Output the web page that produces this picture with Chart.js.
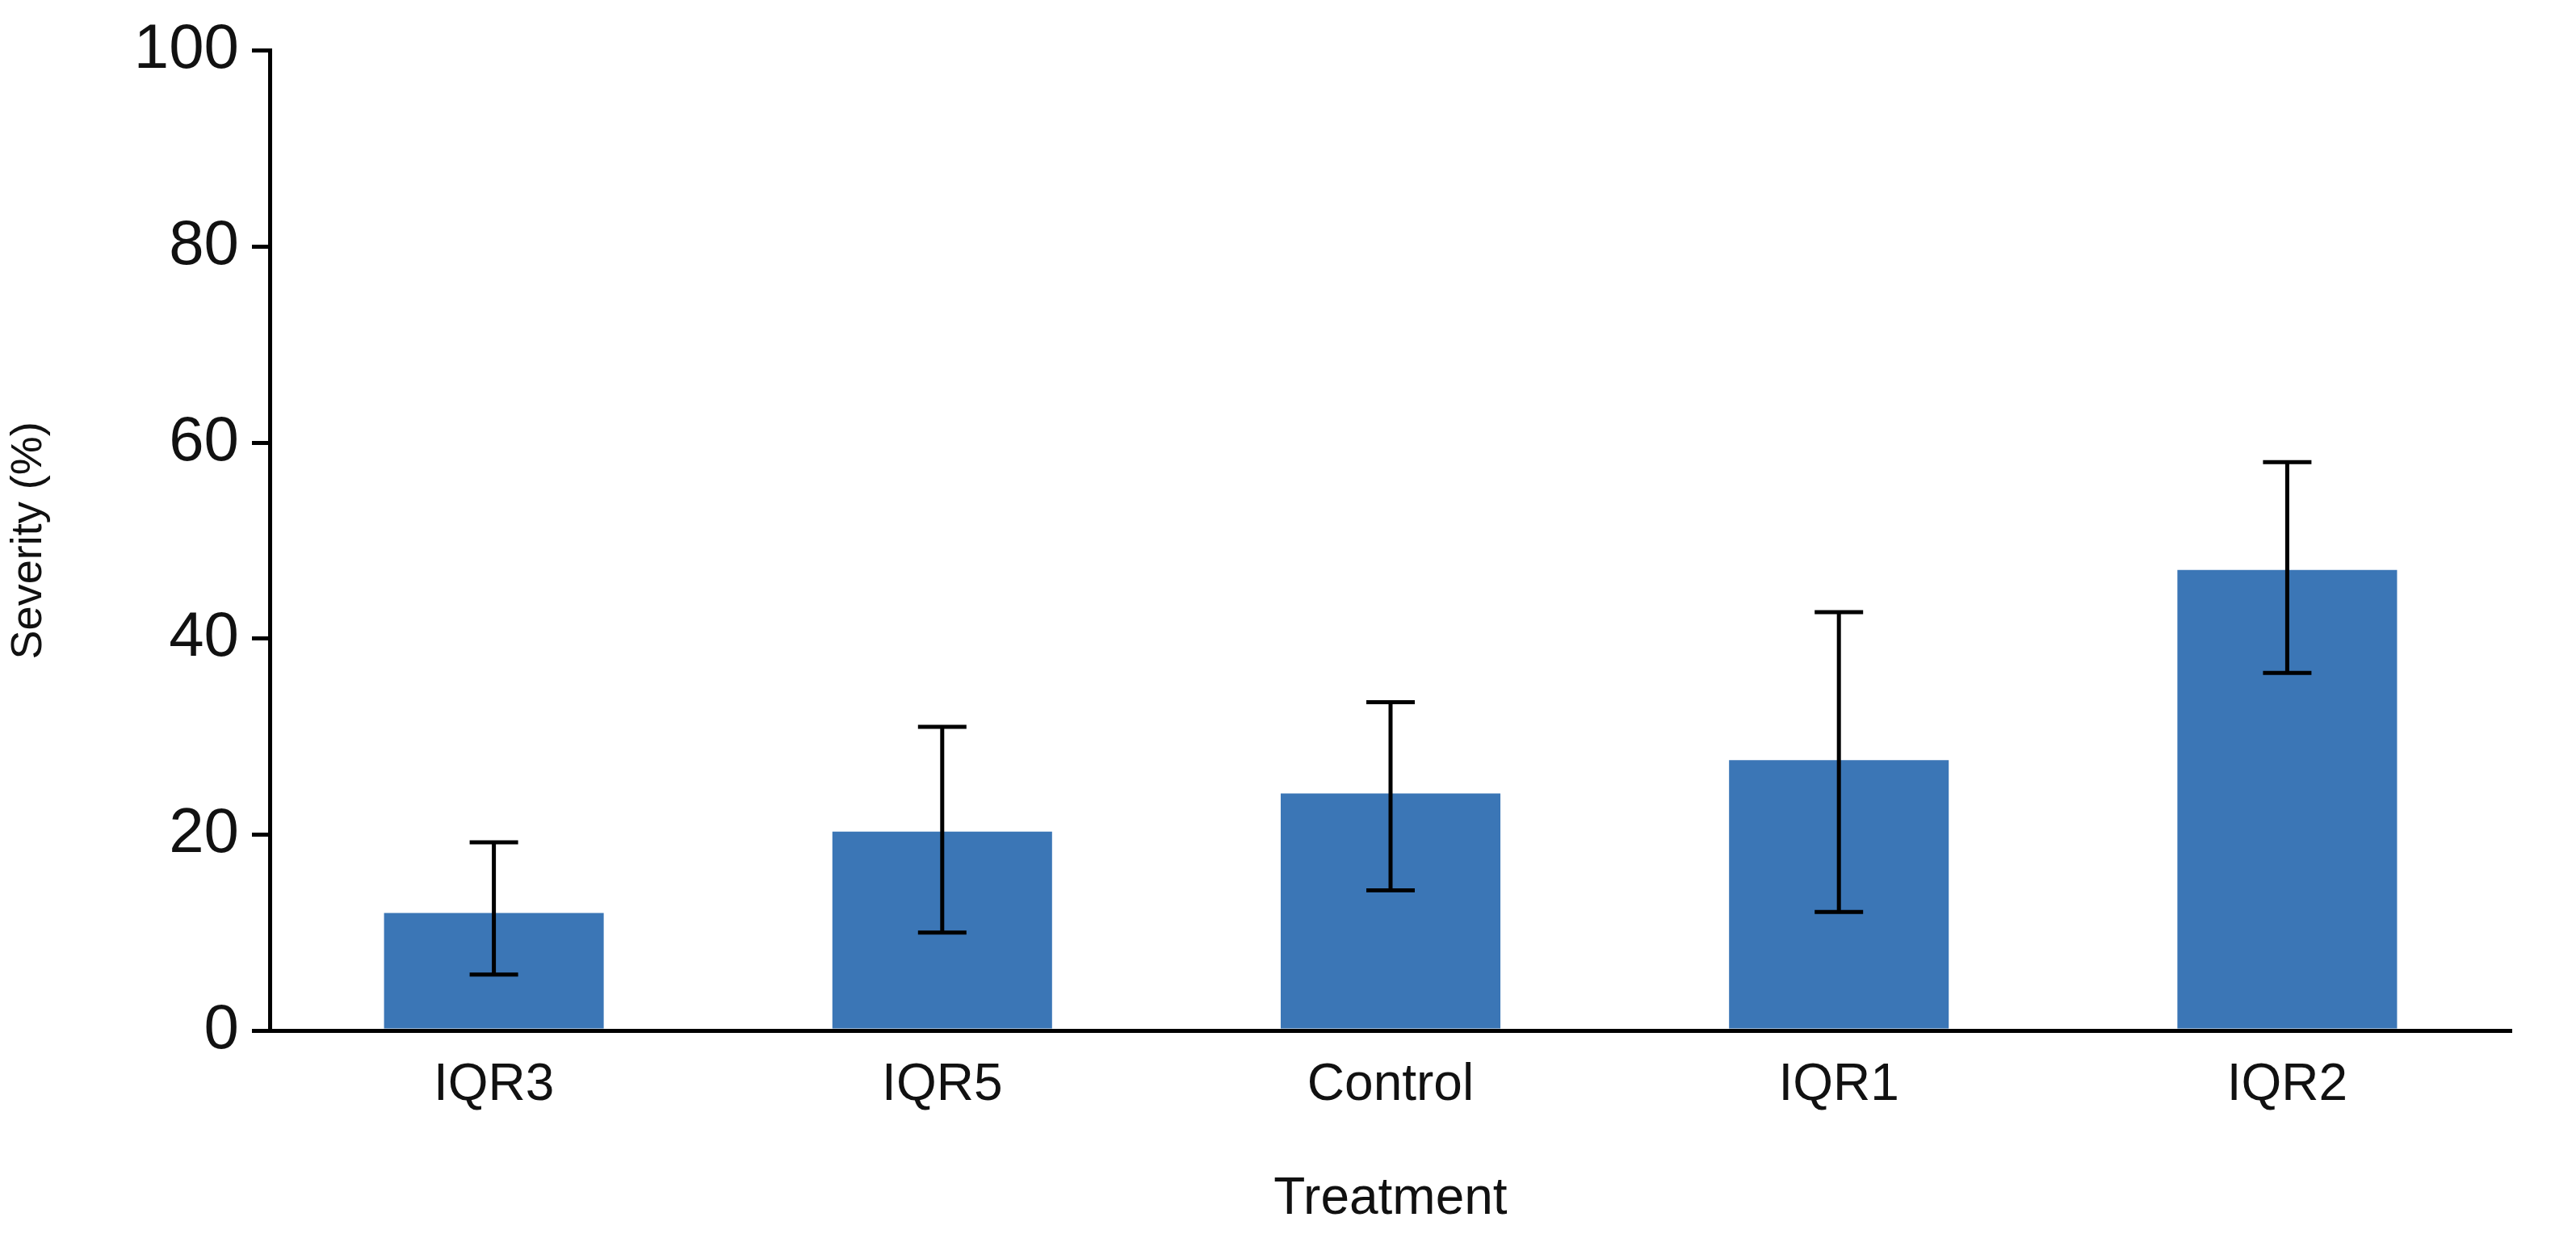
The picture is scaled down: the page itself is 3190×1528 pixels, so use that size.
<!DOCTYPE html>
<html><head><meta charset="utf-8">
<script src="https://cdn.jsdelivr.net/npm/chart.js@4"></script>
<style>html,body{margin:0;padding:0;background:#fff}</style>
</head><body>
<canvas id="c" width="3190" height="1528"></canvas>
<script>
const categories = ["IQR3","IQR5","Control","IQR1","IQR2"];
const severity = [12.0,20.3,24.2,27.6,47.0];
const errLow = [5.7,10.0,14.3,12.1,36.5];
const errHigh = [19.2,31.0,33.5,42.7,58.0];
const yTicks = [0,20,40,60,80,100];

const errPlugin = {
  id:'err',
  afterDatasetsDraw(chart){
    const ctx = chart.ctx, x = chart.scales.x, y = chart.scales.y;
    ctx.save(); ctx.strokeStyle='#000'; ctx.lineWidth=5;
    categories.forEach((c,i)=>{
      const px = x.getPixelForValue(i), yl = y.getPixelForValue(errLow[i]), yh = y.getPixelForValue(errHigh[i]);
      ctx.beginPath();
      ctx.moveTo(px,yl); ctx.lineTo(px,yh);
      ctx.moveTo(px-30,yl); ctx.lineTo(px+30,yl);
      ctx.moveTo(px-30,yh); ctx.lineTo(px+30,yh);
      ctx.stroke();
    });
    ctx.restore();
  }
};

new Chart(document.getElementById('c'),{
  type:'bar',
  data:{labels:categories,datasets:[{data:severity,backgroundColor:'#3b76b6',categoryPercentage:1,barPercentage:0.49}]},
  options:{
    responsive:false,animation:false,
    layout:{padding:{top:58,right:80,left:0,bottom:0}},
    plugins:{legend:{display:false},tooltip:{enabled:false}},
    scales:{
      x:{grid:{display:false,drawTicks:false},border:{color:'#000',width:5},
        ticks:{color:'#111',font:{family:'Liberation Sans',size:64},padding:30},
        title:{display:true,text:'Treatment',color:'#111',font:{family:'Liberation Sans',size:64},padding:{top:60}},
        afterFit(s){s.height=252;}},
      y:{min:0,max:100,afterBuildTicks(s){s.ticks=yTicks.map(v=>({value:v}));},
        grid:{display:true,drawOnChartArea:false,drawTicks:true,tickLength:22,lineWidth:5,tickWidth:5,tickColor:'#000',color:'#000'},
        border:{color:'#000',width:5},
        ticks:{color:'#111',font:{family:'Liberation Sans',size:78},padding:16},
        title:{display:true,text:'Severity (%)',color:'#111',font:{family:'Liberation Sans',size:54},padding:{bottom:20}},
        afterFit(s){s.width=334;}}
    }
  },
  plugins:[errPlugin]
});
</script>
</body></html>
